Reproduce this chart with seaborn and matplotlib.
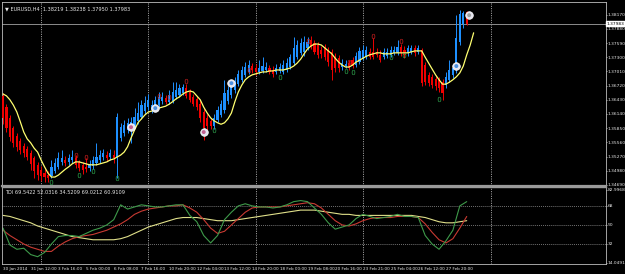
import numpy as np
import matplotlib
matplotlib.use("Agg")
import matplotlib.pyplot as plt
import seaborn as sns
from matplotlib import font_manager

# ---------------- data ----------------
title_main = "\u25bc EURUSD,H4  1.38219 1.38238 1.37950 1.37983"
title_tdi = "TDI 69.5422 52.0316 34.5209 69.0212 60.9109"

ha_open = [1.3651,1.3628,1.3606,1.3585,1.3569,1.3559,1.3549,1.3542,1.3534,1.3524,
           1.3510,1.3499,1.3493,1.3489,1.3487,1.3497,1.3506,1.3516,1.3520,1.3516,
           1.3520,1.3524,1.3516,1.3510,1.3506,1.3504,1.3508,1.3514,1.3520,1.3526,
           1.3530,1.3526,1.3530,1.3526,1.3565,1.3575,1.3581,1.3587,1.3591,1.3600,
           1.3608,1.3620,1.3628,1.3622,1.3626,1.3632,1.3641,1.3647,1.3639,1.3641,
           1.3649,1.3653,1.3657,1.3667,1.3659,1.3649,1.3645,1.3634,1.3618,1.3606,
           1.3600,1.3589,1.3602,1.3612,1.3622,1.3641,1.3653,1.3663,1.3675,1.3684,
           1.3694,1.3700,1.3712,1.3708,1.3700,1.3702,1.3704,1.3708,1.3704,1.3700,
           1.3702,1.3700,1.3704,1.3710,1.3718,1.3730,1.3739,1.3741,1.3749,1.3765,
           1.3759,1.3755,1.3745,1.3751,1.3745,1.3741,1.3730,1.3728,1.3710,1.3712,
           1.3718,1.3724,1.3714,1.3720,1.3728,1.3730,1.3741,1.3741,1.3741,1.3735,
           1.3730,1.3732,1.3735,1.3739,1.3739,1.3751,1.3745,1.3739,1.3741,1.3749,
           1.3741,1.3745,1.3714,1.3694,1.3690,1.3686,1.3684,1.3679,1.3673,1.3684,
           1.3694,1.3704,1.3761,1.3798,1.38219]
ha_high = [1.3657,1.3634,1.3612,1.3589,1.3575,1.3565,1.3555,1.3549,1.3540,1.3528,
           1.3516,1.3508,1.3501,1.3497,1.3520,1.3524,1.3536,1.3540,1.3528,1.3532,
           1.3540,1.3530,1.3520,1.3516,1.3524,1.3520,1.3528,1.3555,1.3540,1.3542,
           1.3538,1.3542,1.3540,1.3616,1.3596,1.3602,1.3606,1.3608,1.3626,1.3639,
           1.3643,1.3651,1.3655,1.3643,1.3651,1.3659,1.3659,1.3653,1.3663,1.3679,
           1.3679,1.3675,1.3675,1.3675,1.3665,1.3655,1.3651,1.3643,1.3626,1.3614,
           1.3606,1.3614,1.3630,1.3643,1.3684,1.3671,1.3684,1.3690,1.3704,1.3712,
           1.3720,1.3724,1.3718,1.3716,1.3724,1.3730,1.3720,1.3714,1.3712,1.3716,
           1.3718,1.3724,1.3728,1.3737,1.3771,1.3765,1.3769,1.3773,1.3771,1.3773,
           1.3765,1.3761,1.3753,1.3757,1.3751,1.3747,1.3739,1.3735,1.3726,1.3724,
           1.3724,1.3730,1.3741,1.3751,1.3755,1.3753,1.3749,1.3769,1.3749,1.3745,
           1.3749,1.3749,1.3753,1.3753,1.3765,1.3757,1.3753,1.3755,1.3755,1.3755,
           1.3755,1.3749,1.3720,1.3700,1.3696,1.3692,1.3690,1.3686,1.3700,1.3724,
           1.3716,1.3816,1.3827,1.3825,1.38238]
ha_low = [1.3593,1.3577,1.3559,1.3547,1.3538,1.3532,1.3526,1.3520,1.3499,1.3483,
          1.3479,1.3477,1.3475,1.3475,1.3483,1.3493,1.3501,1.3510,1.3508,1.3510,
          1.3514,1.3504,1.3497,1.3491,1.3495,1.3497,1.3501,1.3510,1.3514,1.3520,
          1.3518,1.3520,1.3514,1.3483,1.3559,1.3569,1.3575,1.3555,1.3585,1.3593,
          1.3604,1.3614,1.3622,1.3616,1.3622,1.3628,1.3634,1.3634,1.3634,1.3637,
          1.3645,1.3649,1.3653,1.3647,1.3639,1.3630,1.3622,1.3598,1.3561,1.3581,
          1.3583,1.3583,1.3598,1.3608,1.3616,1.3634,1.3647,1.3657,1.3671,1.3679,
          1.3690,1.3696,1.3698,1.3694,1.3696,1.3698,1.3700,1.3696,1.3690,1.3696,
          1.3698,1.3696,1.3700,1.3706,1.3714,1.3726,1.3735,1.3732,1.3745,1.3747,
          1.3737,1.3728,1.3728,1.3724,1.3712,1.3684,1.3700,1.3700,1.3704,1.3708,
          1.3704,1.3708,1.3710,1.3716,1.3724,1.3726,1.3726,1.3726,1.3730,1.3720,
          1.3726,1.3728,1.3730,1.3735,1.3735,1.3732,1.3728,1.3732,1.3737,1.3732,
          1.3737,1.3671,1.3673,1.3671,1.3667,1.3663,1.3659,1.3643,1.3667,1.3679,
          1.3688,1.3698,1.3755,1.3790,1.37950]
ha_close = [1.3606,1.3585,1.3567,1.3555,1.3547,1.3540,1.3534,1.3526,1.3512,1.3497,
            1.3489,1.3487,1.3485,1.3483,1.3506,1.3514,1.3524,1.3524,1.3514,1.3524,
            1.3526,1.3510,1.3504,1.3499,1.3501,1.3512,1.3520,1.3526,1.3530,1.3534,
            1.3524,1.3534,1.3524,1.3608,1.3587,1.3591,1.3596,1.3598,1.3608,1.3616,
            1.3632,1.3637,1.3643,1.3632,1.3643,1.3649,1.3649,1.3639,1.3653,1.3659,
            1.3663,1.3667,1.3669,1.3651,1.3643,1.3634,1.3628,1.3606,1.3585,1.3589,
            1.3589,1.3606,1.3622,1.3634,1.3657,1.3663,1.3673,1.3681,1.3696,1.3704,
            1.3710,1.3714,1.3704,1.3700,1.3708,1.3712,1.3710,1.3700,1.3696,1.3708,
            1.3710,1.3714,1.3718,1.3730,1.3749,1.3755,1.3759,1.3761,1.3761,1.3751,
            1.3741,1.3735,1.3737,1.3730,1.3720,1.3704,1.3708,1.3708,1.3718,1.3716,
            1.3708,1.3712,1.3732,1.3743,1.3745,1.3745,1.3730,1.3730,1.3735,1.3724,
            1.3741,1.3741,1.3745,1.3745,1.3751,1.3739,1.3735,1.3749,1.3749,1.3739,
            1.3749,1.3677,1.3679,1.3677,1.3673,1.3671,1.3667,1.3657,1.3690,1.3704,
            1.3708,1.3769,1.3818,1.3821,1.37983]

ma_line = [1.3655,1.3651,1.3643,1.3632,1.3618,1.3598,1.3577,1.3563,1.3555,1.3544,
           1.3536,1.3520,1.3506,1.3493,1.3485,1.3485,1.3489,1.3495,1.3501,1.3506,
           1.3512,1.3516,1.3516,1.3514,1.3512,1.3510,1.3510,1.3510,1.3512,1.3514,
           1.3516,1.3520,1.3522,1.3526,1.3530,1.3536,1.3547,1.3565,1.3581,1.3596,
           1.3604,1.3612,1.3618,1.3620,1.3624,1.3626,1.3628,1.3630,1.3634,1.3639,
           1.3645,1.3649,1.3655,1.3659,1.3661,1.3659,1.3651,1.3643,1.3628,1.3616,
           1.3606,1.3600,1.3596,1.3593,1.3596,1.3604,1.3616,1.3639,1.3659,1.3673,
           1.3684,1.3690,1.3694,1.3696,1.3698,1.3700,1.3700,1.3702,1.3702,1.3704,
           1.3704,1.3704,1.3706,1.3708,1.3712,1.3718,1.3726,1.3737,1.3747,1.3753,
           1.3757,1.3757,1.3755,1.3749,1.3743,1.3737,1.3728,1.3720,1.3714,1.3710,
           1.3710,1.3714,1.3720,1.3724,1.3728,1.3732,1.3735,1.3737,1.3739,1.3739,
           1.3737,1.3737,1.3737,1.3739,1.3739,1.3739,1.3739,1.3739,1.3741,1.3743,
           1.3743,1.3743,1.3730,1.3718,1.3706,1.3694,1.3684,1.3675,1.3675,1.3679,
           1.3684,1.3690,1.3698,1.3712,1.3735,1.3755,1.3780]

sell_bar = [21, 24, 45, 48, 53, 71, 88, 100, 107, 115]
sell_price = [1.3530, 1.3526, 1.3651, 1.3649, 1.3681, 1.3704, 1.3763, 1.3720, 1.3773, 1.3763]
buy_bar = [14, 22, 26, 33, 61, 80, 99, 101, 112, 116, 126]
buy_price = [1.3475, 1.3489, 1.3497, 1.3483, 1.3581, 1.3690, 1.3702, 1.3700, 1.3730, 1.3735, 1.3645]
ring_bar = [37, 44, 58, 66, 131, 134.7]
ring_price = [1.3587, 1.3626, 1.3577, 1.3677, 1.3712, 1.3816]
ring_kind = ["s", "b", "s", "b", "b", "n"]

tdi_bar = list(range(0, 135, 2))
tdi_green = [47,31,27,28,22,20,24,32,39,40,40,39,42,45,47,50,55,69,65,67,69,68,67,67,68,69,69,59,53,
             40,33,40,55,62,68,70,68,67,67,66,67,69,72,73,72,66,60,52,46,48,50,56,60,58,56,57,58,60,
             58,58,57,40,32,27,35,45,68,72]
tdi_red = [45,40,36,32,29,27,25,25,30,34,37,39,40,41,43,45,48,51,55,60,63,65,66,67,68,68,69,66,62,
           55,47,42,44,50,56,62,66,67,67,67,67,68,69,70,71,70,66,60,54,50,49,51,54,56,57,57,57,58,
           58,58,57,51,43,36,33,37,47,58]
tdi_yellow = [59,58,56,54,52,49,47,45,43,41,39,38,37,36,36,36,36,37,39,42,45,48,50,52,54,56,57,57,57,
              56,55,54,54,54,55,56,57,58,59,60,61,62,63,64,64,64,63,62,61,60,60,59,59,59,59,59,59,59,
              59,59,58,57,55,53,52,52,53,54]

price_ticks = [1.38170, 1.37880, 1.37590, 1.37300, 1.37010, 1.36720, 1.36430,
               1.36140, 1.35850, 1.35560, 1.35270, 1.34980, 1.34690]
last_price = 1.37983
tdi_levels = [68, 50, 32]
tdi_top, tdi_bottom = 82.9968, 14.0491
date_bars = list(range(0, 129, 8))
date_labels = ["30 Jan 2014", "31 Jan 12:00", "3 Feb 16:00", "5 Feb 00:00", "6 Feb 08:00",
               "7 Feb 16:00", "10 Feb 20:00", "12 Feb 04:00", "13 Feb 12:00", "14 Feb 20:00",
               "18 Feb 00:00", "19 Feb 08:00", "20 Feb 16:00", "23 Feb 21:00", "25 Feb 04:00",
               "26 Feb 12:00", "27 Feb 20:00"]
separator_bars = [11, 42, 73, 104, 141]

# ---------------- style ----------------
sns.set_theme(style="dark")
names = {f.name for f in font_manager.fontManager.ttflist}
narrow = "Liberation Sans Narrow" if "Liberation Sans Narrow" in names else "DejaVu Sans"
plt.rcParams["font.family"] = [narrow, "DejaVu Sans"]
BLUE = "#1E90FF"
RED = "#F00000"
FG = "#E8E8E8"
FSY = 3.15
FSX = 3.0
FST = 3.6

W, H = 625, 274
fig = plt.figure(figsize=(W / 100, H / 100), dpi=100, facecolor="black")
ax = fig.add_axes([2 / W, (H - 186) / H, 603.5 / W, 184 / H])
ax2 = fig.add_axes([2 / W, (H - 264) / H, 603.5 / W, 77 / H])
XL = (-0.29, 174.1)

for a in (ax, ax2):
    a.set_facecolor("black")
    a.set_xlim(*XL)
    a.grid(False)
    for s in a.spines.values():
        s.set_color("#BEBEBE")
        s.set_linewidth(0.6)
    a.yaxis.tick_right()
    a.tick_params(axis="y", colors=FG, labelsize=FSY, length=1.0, width=0.5, pad=0.3)
    for sb in separator_bars:
        a.axvline(sb, color="#C8C8C8", lw=0.6, ls=(0, (1.2, 1.6)), zorder=1)

ax.spines["bottom"].set_color("#9A9A9A")
ax.spines["bottom"].set_linewidth(1.6)
ax2.spines["top"].set_color("#9A9A9A")
ax2.spines["top"].set_linewidth(1.0)

# ---------------- main chart ----------------
o = np.array(ha_open); c = np.array(ha_close)
hi = np.array(ha_high); lo = np.array(ha_low)
idx = np.arange(len(o))
cols = np.where(c >= o, BLUE, RED)
ax.vlines(idx, lo, hi, colors=cols, lw=0.7, zorder=3)
ax.bar(idx, np.maximum(np.abs(c - o), 0.00008), bottom=np.minimum(o, c), width=0.62,
       color=cols, linewidth=0, zorder=4)

ax.axhline(last_price, color="#8C8C8C", lw=0.7, zorder=2)
sns.lineplot(x=np.arange(len(ma_line)), y=ma_line, ax=ax, color="#FFFF70", lw=0.9,
             estimator=None, legend=False, zorder=5)

sns.scatterplot(x=sell_bar, y=sell_price, ax=ax, marker="$0$", s=14, color="#D22020",
                linewidth=0, legend=False, zorder=6)
sns.scatterplot(x=buy_bar, y=buy_price, ax=ax, marker="$0$", s=14, color="#2FA84F",
                linewidth=0, legend=False, zorder=6)
ring_col = {"s": "#C06090", "b": "#4A90E0", "n": "#A0A0A0"}
sns.scatterplot(x=ring_bar, y=ring_price, ax=ax, s=30, color="#E4E4F0", edgecolor="white",
                linewidth=0.5, legend=False, zorder=7)
sns.scatterplot(x=ring_bar, y=ring_price, ax=ax, s=8, c=[ring_col[k] for k in ring_kind],
                linewidth=0, legend=False, zorder=8)

ax.set_ylim(1.34667, 1.38430)
ax.set_yticks(price_ticks)
ax.set_yticklabels([f"{p:.5f}" for p in price_ticks])
ax.set_xticks([])
ax.set_xlabel(""); ax.set_ylabel("")
ax.text(1.0018, last_price, f"{last_price:.5f}", transform=ax.get_yaxis_transform(),
        fontsize=FSY, color="black", va="center", ha="left", zorder=10,
        bbox=dict(boxstyle="square,pad=0.1", fc="white", ec="white"), clip_on=False)
ax.text(0.005, 0.975, title_main, transform=ax.transAxes, fontsize=FST, color=FG,
        va="top", ha="left")

# ---------------- TDI sub window ----------------
sns.lineplot(x=tdi_bar, y=tdi_yellow, ax=ax2, color="#E0E08A", lw=0.8, estimator=None, legend=False)
sns.lineplot(x=tdi_bar, y=tdi_red, ax=ax2, color="#C83A32", lw=0.8, estimator=None, legend=False)
sns.lineplot(x=tdi_bar, y=tdi_green, ax=ax2, color="#3E9A4A", lw=0.8, estimator=None, legend=False)
for lv in tdi_levels:
    ax2.axhline(lv, color="#B4B4B4", lw=0.5, ls=(0, (1.2, 1.6)), zorder=1)
ax2.set_ylim(13.10, 85.83)
yt = [tdi_top] + tdi_levels + [tdi_bottom]
ax2.set_yticks(yt)
ax2.set_yticklabels(["82.9968", "68", "50", "32", "14.0491"])
ax2.set_xticks(date_bars)
ax2.set_xticklabels(date_labels, ha="left")
ax2.tick_params(axis="x", colors=FG, labelsize=FSX, length=1.2, width=0.5, pad=0.8)
ax2.set_xlabel(""); ax2.set_ylabel("")
ax2.text(0.005, 0.96, title_tdi, transform=ax2.transAxes, fontsize=FST, color=FG,
         va="top", ha="left")

fig.savefig("out.png", dpi=100, facecolor="black")
